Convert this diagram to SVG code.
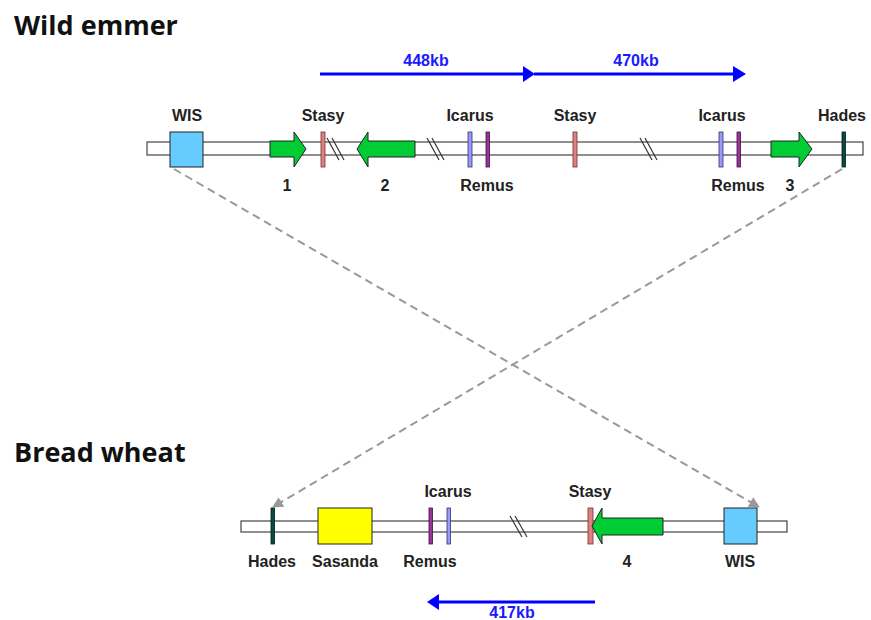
<svg xmlns="http://www.w3.org/2000/svg" width="871" height="620" viewBox="0 0 871 620">
<style>
.title{font-family:"Open Sans","Liberation Sans",sans-serif;font-weight:bold;font-size:27px;fill:#111}
.lbl{font-family:"Liberation Sans",Arial,sans-serif;font-weight:bold;font-size:16px;fill:#222;text-anchor:middle}
.kb{font-family:"Liberation Sans",Arial,sans-serif;font-weight:bold;font-size:16px;fill:#1a1aff;text-anchor:middle}
.bar{fill:#fff;stroke:#444;stroke-width:1.2}
.gene{fill:#00CC33;stroke:#222;stroke-width:1}
.wis{fill:#66CCFF;stroke:#222;stroke-width:1}
.sas{fill:#FFFF00;stroke:#222;stroke-width:1}
.stasy{fill:#E08080;stroke:#703030;stroke-width:0.8}
.icarus{fill:#9999FF;stroke:#333366;stroke-width:0.8}
.remus{fill:#993399;stroke:#401040;stroke-width:0.8}
.hades{fill:#0A4A40;stroke:#002020;stroke-width:0.8}
.brk{stroke:#333;stroke-width:1.2}
.dash{stroke:#999;stroke-width:2;stroke-dasharray:8,5;fill:none}
.blue{stroke:#0000FF;stroke-width:3;fill:none}
.bluehead{fill:#0000FF}
</style>
<defs>
<marker id="gh" viewBox="0 0 10 10" refX="9" refY="5" markerWidth="11" markerHeight="11" markerUnits="userSpaceOnUse" orient="auto">
<path d="M0,0 L10,5 L0,10 z" fill="#999"/>
</marker>
</defs>
<rect width="871" height="620" fill="#fff"/>
<text class="title" x="14" y="35">Wild emmer</text>
<text class="title" x="14" y="462">Bread wheat</text>

<g id="top-chromosome">
<rect class="bar" x="147" y="142" width="716" height="13"/>
<line class="brk" x1="327" y1="138" x2="339" y2="160"/>
<line class="brk" x1="332" y1="138" x2="344" y2="160"/>
<line class="brk" x1="427" y1="138" x2="439" y2="160"/>
<line class="brk" x1="432" y1="138" x2="444" y2="160"/>
<line class="brk" x1="640" y1="138" x2="652" y2="160"/>
<line class="brk" x1="645" y1="138" x2="657" y2="160"/>
</g>
<g id="bottom-chromosome">
<rect class="bar" x="241" y="521" width="546" height="11"/>
<line class="brk" x1="510" y1="516" x2="522" y2="537"/>
<line class="brk" x1="515" y1="516" x2="527" y2="537"/>
</g>

<g id="connectors">
<line class="dash" x1="174" y1="169" x2="759" y2="507" marker-end="url(#gh)"/>
<line class="dash" x1="842" y1="169" x2="273" y2="507" marker-end="url(#gh)"/>
<line class="blue" x1="320" y1="74" x2="524" y2="74"/>
<polygon class="bluehead" points="523,66 535,74 523,82"/>
<line class="blue" x1="534" y1="74" x2="734" y2="74"/>
<polygon class="bluehead" points="733,66 746,74 733,82"/>
<line class="blue" x1="437" y1="602" x2="595" y2="602"/>
<polygon class="bluehead" points="439,594 427,602 439,610"/>
<text class="kb" x="426" y="66">448kb</text>
<text class="kb" x="636" y="66">470kb</text>
<text class="kb" x="512" y="618">417kb</text>
</g>

<g id="wis-top"><rect class="wis" x="170" y="132" width="33" height="35"/><text class="lbl" x="187" y="121">WIS</text></g>
<g id="gene1"><polygon class="gene" points="270,141 294,141 294,132 306,149 294,167 294,157 270,157"/><text class="lbl" x="287" y="191">1</text></g>
<g id="stasy-top1"><rect class="stasy" x="321" y="132" width="4" height="35"/><text class="lbl" x="323" y="121">Stasy</text></g>
<g id="gene2"><polygon class="gene" points="357,149 368,132 368,141 415,141 415,157 368,157 368,167"/><text class="lbl" x="385" y="191">2</text></g>
<g id="icarus-top1"><rect class="icarus" x="468" y="132" width="4" height="35"/><text class="lbl" x="470" y="121">Icarus</text></g>
<g id="remus-top1"><rect class="remus" x="486" y="132" width="3.5" height="35"/><text class="lbl" x="487" y="191">Remus</text></g>
<g id="stasy-top2"><rect class="stasy" x="573" y="132" width="4" height="35"/><text class="lbl" x="575" y="121">Stasy</text></g>
<g id="icarus-top2"><rect class="icarus" x="719" y="132" width="4" height="35"/><text class="lbl" x="722" y="121">Icarus</text></g>
<g id="remus-top2"><rect class="remus" x="737" y="132" width="3.5" height="35"/><text class="lbl" x="738" y="191">Remus</text></g>
<g id="gene3"><polygon class="gene" points="771,141 799,141 799,132 812,149 799,167 799,157 771,157"/><text class="lbl" x="790" y="191">3</text></g>
<g id="hades-top"><rect class="hades" x="842" y="132" width="3.5" height="35"/><text class="lbl" x="842" y="121">Hades</text></g>

<g id="hades-bottom"><rect class="hades" x="271" y="508" width="3.5" height="36"/><text class="lbl" x="272" y="567">Hades</text></g>
<g id="sasanda"><rect class="sas" x="318" y="508" width="54" height="36"/><text class="lbl" x="345" y="567">Sasanda</text></g>
<g id="remus-bottom"><rect class="remus" x="429" y="508" width="3.5" height="36"/><text class="lbl" x="430" y="567">Remus</text></g>
<g id="icarus-bottom"><rect class="icarus" x="447" y="508" width="3.5" height="36"/><text class="lbl" x="448" y="497">Icarus</text></g>
<g id="stasy-bottom"><rect class="stasy" x="588" y="508" width="5" height="36"/><text class="lbl" x="590" y="497">Stasy</text></g>
<g id="gene4"><polygon class="gene" points="592,526 602,508 602,518 663,518 663,535 602,535 602,544"/><text class="lbl" x="627" y="567">4</text></g>
<g id="wis-bottom"><rect class="wis" x="724" y="508" width="33" height="36"/><text class="lbl" x="740" y="567">WIS</text></g>
</svg>
